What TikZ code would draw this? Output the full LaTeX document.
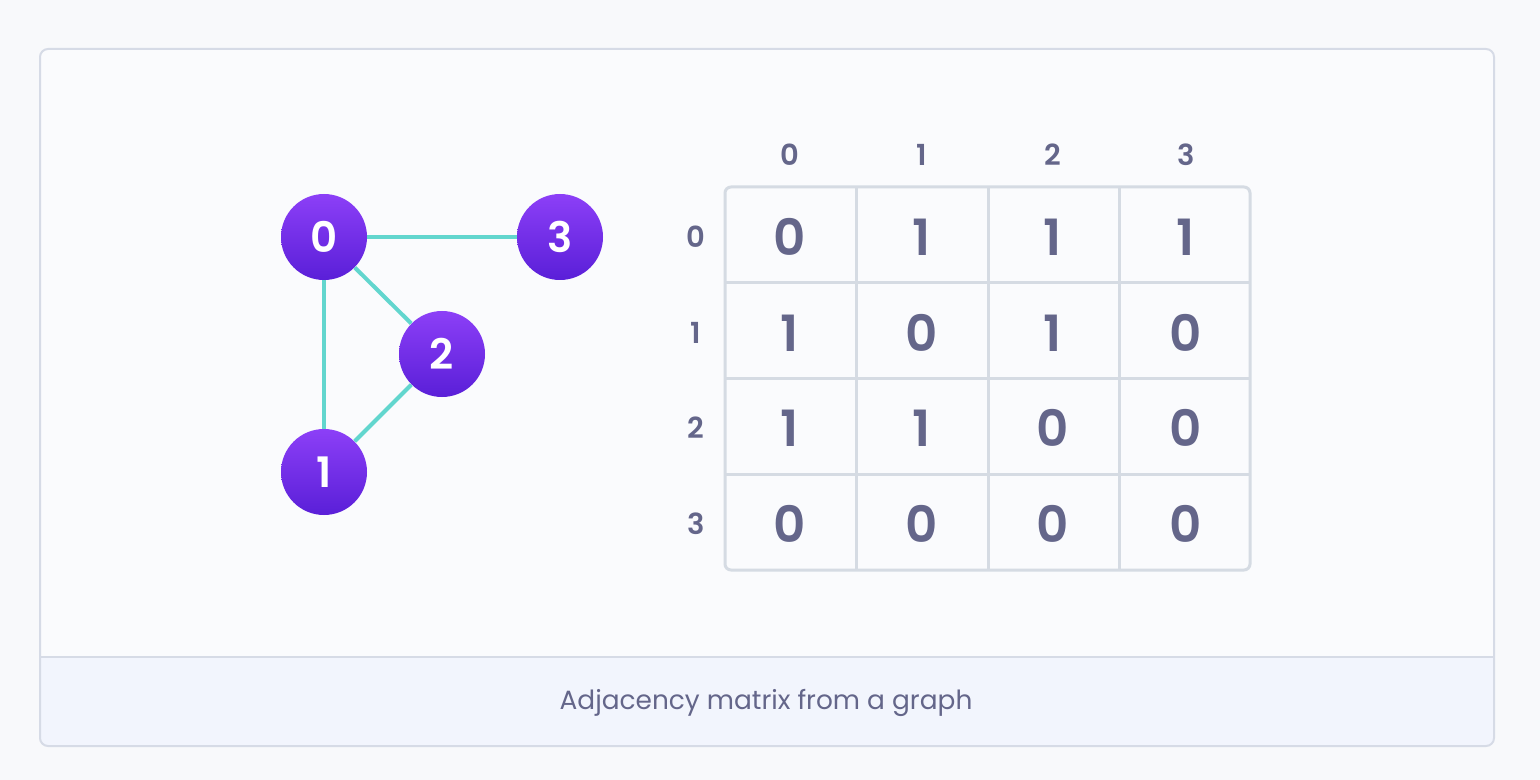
\documentclass[tikz,border=0pt]{standalone}
\usepackage{fontspec}
\setmainfont{Poppins}
\newfontfamily\digitfont{Poppins}[UprightFont=* Medium, BoldFont=* SemiBold]
\usetikzlibrary{positioning}

\definecolor{pagebg}{HTML}{F8F9FB}
\definecolor{panelbg}{HTML}{FAFBFD}
\definecolor{panelline}{HTML}{D6DBE6}
\definecolor{captionbg}{HTML}{F2F5FD}
\definecolor{inktext}{HTML}{64668A}
\definecolor{gridline}{HTML}{D5DBE3}
\definecolor{edgeteal}{HTML}{62D6CE}
\definecolor{vtxtop}{HTML}{8C3FF7}
\definecolor{vtxbottom}{HTML}{5A1FD8}

\tikzset{
  vertex/.style={circle, minimum size=43pt, inner sep=0pt, top color=vtxtop, bottom color=vtxbottom,
    text=white, font=\fontsize{21}{21}\selectfont\digitfont\bfseries},
  link/.style={draw=edgeteal, line width=2pt},
  cell/.style={text=inktext, font=\fontsize{25}{25}\selectfont\digitfont\bfseries},
  header/.style={text=inktext, font=\fontsize{14.5}{14.5}\selectfont\digitfont\bfseries},
  caption/.style={text=inktext, font=\fontsize{13.2}{13.2}\selectfont}
}

\begin{document}
\begin{tikzpicture}[x=0.5pt, y=-0.5pt]
        % Page and panel
        \fill[pagebg] (0,0) rectangle (1540,780);
        \useasboundingbox (0,0) rectangle (1540,780);
        \fill[panelbg, rounded corners=4pt] (40,49) rectangle (1494,746);
        \begin{scope}
          \clip[rounded corners=4pt] (40,49) rectangle (1494,746);
          \fill[captionbg] (40,657) rectangle (1494,746);
        \end{scope}
        \draw[panelline, line width=1pt, rounded corners=4pt] (40,49) rectangle (1494,746);
        \draw[panelline, line width=1pt] (40,657) -- (1494,657);

        % Caption
        \node[caption] (caption) at (766,703) {Adjacency matrix from a graph};

        % Graph
        \node[vertex] (v0) at (324,237) {0};
        \node[vertex] (v3) at (560,237) {3};
        \node[vertex] (v2) at (442,354) {2};
        \node[vertex] (v1) at (324,472) {1};

        % Edges
        \draw[link] (v0) -- (v3);
        \draw[link] (v0) -- (v2);
        \draw[link] (v0) -- (v1);
        \draw[link] (v1) -- (v2);

        % Matrix grid
        \draw[gridline, line width=1.5pt, rounded corners=3pt] (725,187) rectangle (1250,570);
        \draw[gridline, line width=1.5pt] (856,187) -- (856,570) (988,187) -- (988,570) (1119,187) -- (1119,570);
        \draw[gridline, line width=1.5pt] (725,283) -- (1250,283) (725,378) -- (1250,378) (725,474) -- (1250,474);

        % Column headers
        \node[header] (c0) at (790,155) {0};
        \node[header] (c1) at (922,155) {1};
        \node[header] (c2) at (1053,155) {2};
        \node[header] (c3) at (1186,155) {3};

        % Row headers
        \node[header] (r0) at (696,237) {0};
        \node[header] (r1) at (696,333) {1};
        \node[header] (r2) at (696,428) {2};
        \node[header] (r3) at (696,524) {3};

        % Row 0
        \node[cell] (m00) at (790,237) {0};
        \node[cell] (m01) at (922,237) {1};
        \node[cell] (m02) at (1053,237) {1};
        \node[cell] (m03) at (1186,237) {1};

        % Row 1
        \node[cell] (m10) at (790,333) {1};
        \node[cell] (m11) at (922,333) {0};
        \node[cell] (m12) at (1053,333) {1};
        \node[cell] (m13) at (1186,333) {0};

        % Row 2
        \node[cell] (m20) at (790,428) {1};
        \node[cell] (m21) at (922,428) {1};
        \node[cell] (m22) at (1053,428) {0};
        \node[cell] (m23) at (1186,428) {0};

        % Row 3
        \node[cell] (m30) at (790,524) {0};
        \node[cell] (m31) at (922,524) {0};
        \node[cell] (m32) at (1053,524) {0};
        \node[cell] (m33) at (1186,524) {0};
\end{tikzpicture}
\end{document}
